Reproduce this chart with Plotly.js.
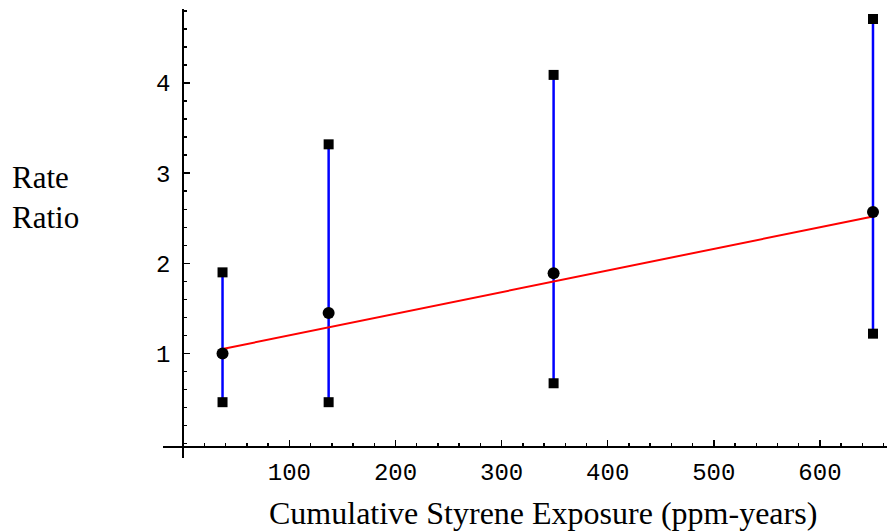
<!DOCTYPE html>
<html>
<head>
<meta charset="utf-8">
<script src="https://cdn.plot.ly/plotly-3.0.1.min.js"></script>
<style>html,body{margin:0;padding:0;background:#fff;}#chart{width:887px;height:531px;}</style>
</head>
<body>
<div id="chart"></div>
<script>
// Data
const exposure = [37, 137, 349, 650];          // cumulative styrene exposure (ppm-years)
const rateRatio = [1.00, 1.45, 1.89, 2.57];     // point estimates
const lowerCI = [0.46, 0.46, 0.67, 1.22];
const upperCI = [1.90, 3.32, 4.09, 4.71];
const fitX = [37, 650];
const fitY = [1.05, 2.52];
const xTickVals = [100, 200, 300, 400, 500, 600];
const yTickVals = [1, 2, 3, 4];

const xRange = [-19.1, 663.2];
const yRange = [-0.159, 4.821];
const xAxisAtY = -0.036;

// vertical CI segments built from the arrays
const segX = [], segY = [];
exposure.forEach((x, i) => { segX.push(x, x, null); segY.push(lowerCI[i], upperCI[i], null); });

const traces = [
  {x: segX, y: segY, mode: 'lines', line: {color: '#0000ff', width: 2.5}, hoverinfo: 'skip', cliponaxis: false},
  {x: exposure.concat(exposure), y: lowerCI.concat(upperCI), mode: 'markers',
   marker: {symbol: 'square', size: 10, color: '#000'}, cliponaxis: false},
  {x: fitX, y: fitY, mode: 'lines', line: {color: '#ff0000', width: 2}, cliponaxis: false},
  {x: exposure, y: rateRatio, mode: 'markers', marker: {symbol: 'circle', size: 12, color: '#000'}, cliponaxis: false}
];

const tickFont = {family: 'Liberation Mono, Courier New, monospace', size: 24, color: '#000'};
const titleFont = {family: 'Liberation Serif, Times New Roman, serif', size: 31, color: '#000'};
const xTitleFont = {family: 'Liberation Serif, Times New Roman, serif', size: 32, color: '#000'};

const layout = {
  width: 887, height: 531,
  margin: {l: 163, r: 0, t: 9, b: 73, pad: 0},
  paper_bgcolor: '#fff', plot_bgcolor: '#fff',
  showlegend: false,
  xaxis: {
    range: xRange, anchor: 'free',
    position: (xAxisAtY - yRange[0]) / (yRange[1] - yRange[0]),
    showgrid: false, zeroline: false, showline: true, linecolor: '#000', linewidth: 2,
    tickmode: 'array', tickvals: xTickVals, ticks: 'inside', ticklen: 6, tickwidth: 1.5, tickcolor: '#000',
    minor: {dtick: 20, tick0: 0, ticks: 'inside', ticklen: 3, tickwidth: 1.5, tickcolor: '#000', showgrid: false},
    tickfont: tickFont, ticklabelstandoff: 3
  },
  yaxis: {
    range: yRange, anchor: 'free',
    position: (0 - xRange[0]) / (xRange[1] - xRange[0]),
    showgrid: false, zeroline: false, showline: true, linecolor: '#000', linewidth: 2,
    tickmode: 'array', tickvals: yTickVals, ticks: 'inside', ticklen: 6, tickwidth: 1.5, tickcolor: '#000',
    minor: {dtick: 0.2, tick0: 0, ticks: 'inside', ticklen: 3, tickwidth: 1.5, tickcolor: '#000', showgrid: false},
    tickfont: tickFont, ticklabelstandoff: 7
  },
  annotations: [
    {text: 'Rate<br>Ratio', xref: 'paper', yref: 'paper', x: -163/724 + 10/724, y: (458 - 198) / 449,
     xanchor: 'left', yanchor: 'middle', align: 'left', showarrow: false, font: titleFont},
    {text: 'Cumulative Styrene Exposure (ppm-years)', xref: 'paper', yref: 'paper',
     x: (543 - 163) / 724, y: (458 - 513) / 449, xanchor: 'center', yanchor: 'middle',
     showarrow: false, font: xTitleFont}
  ]
};

Plotly.newPlot('chart', traces, layout, {staticPlot: true, displayModeBar: false});
</script>
</body>
</html>
